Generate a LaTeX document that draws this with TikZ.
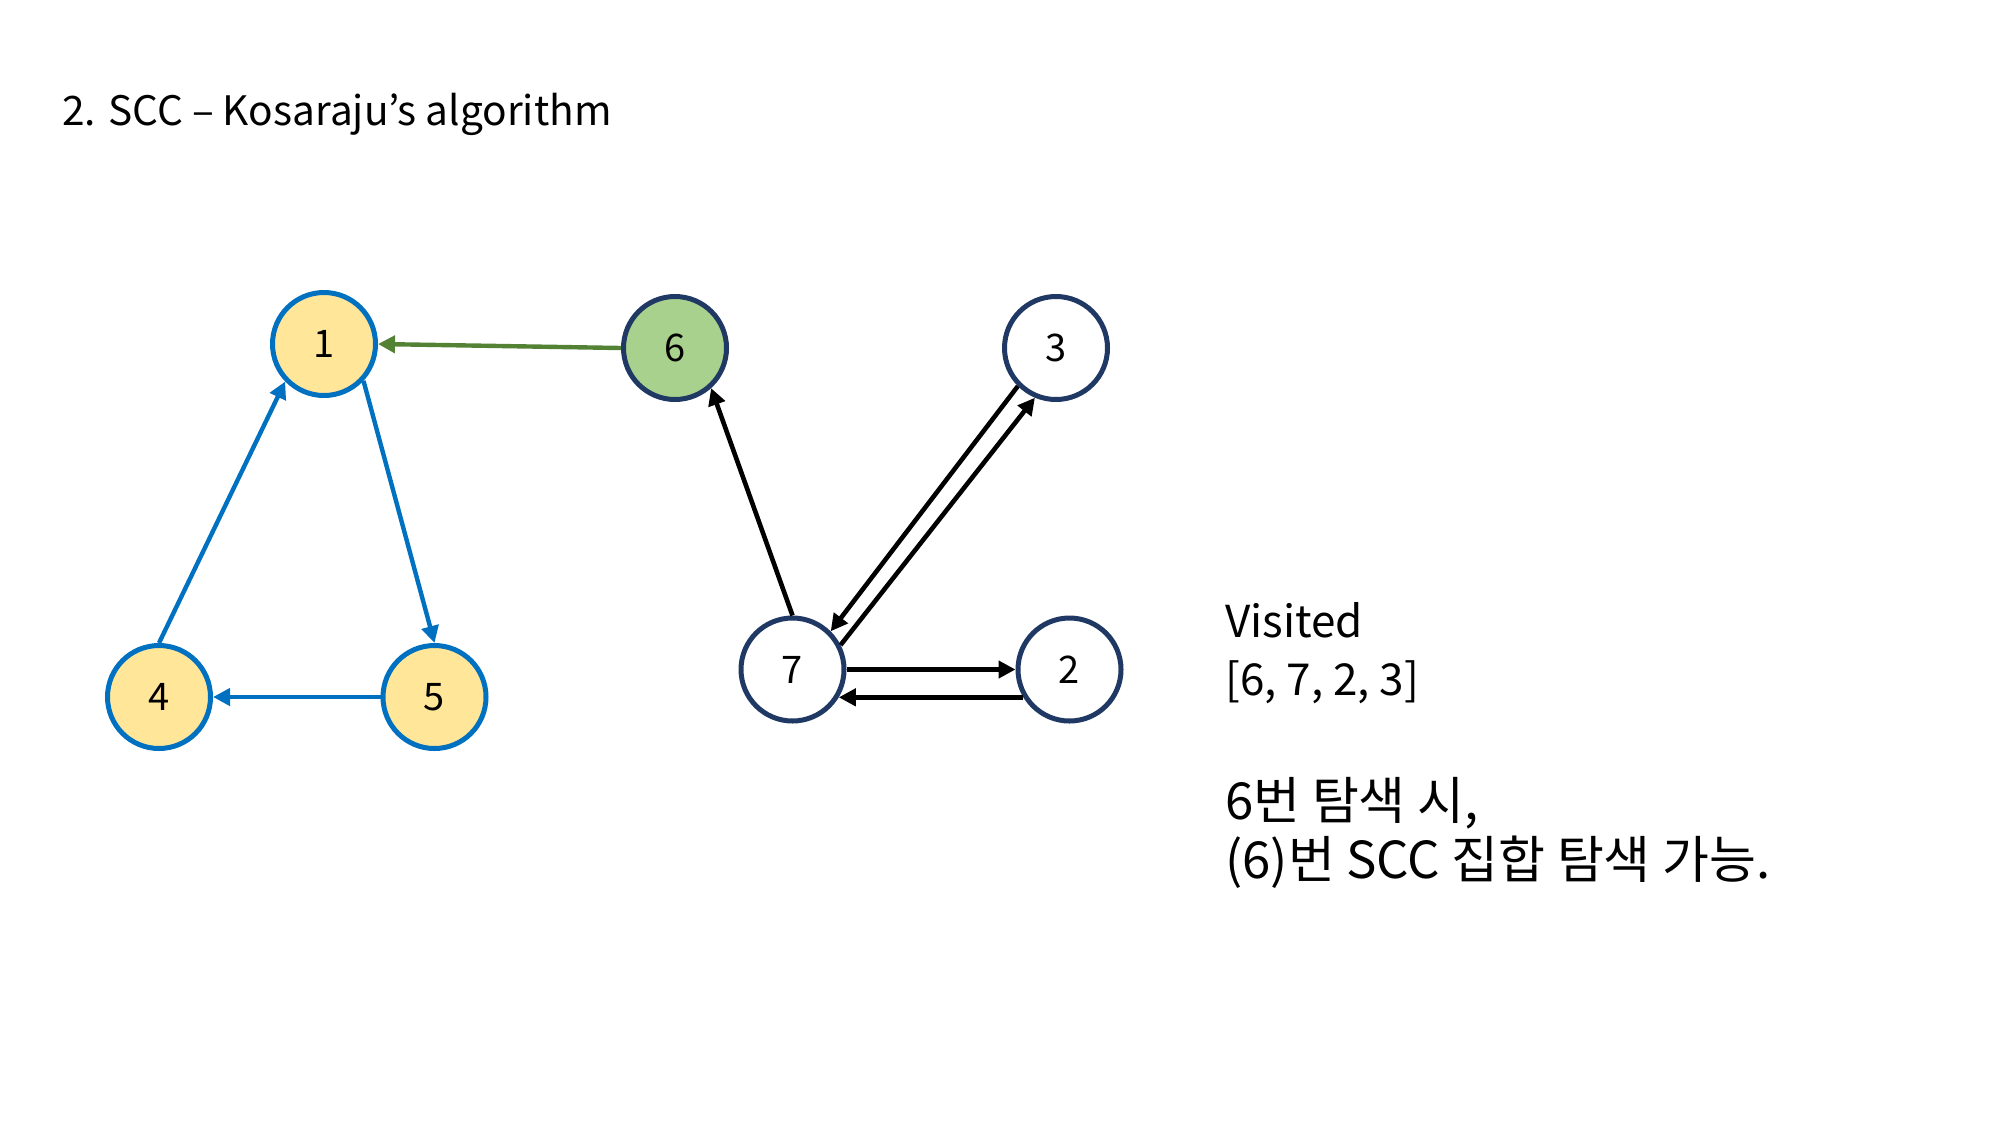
\documentclass[tikz,border=0pt]{standalone}
\usepackage{fontspec}
\setmainfont{Noto Sans CJK KR}
\usetikzlibrary{arrows.meta}
\definecolor{vblue}{HTML}{0070C0}
\definecolor{vyellow}{HTML}{FFE699}
\definecolor{vgreenfill}{HTML}{A9D18E}
\definecolor{vgreenline}{HTML}{548235}
\definecolor{vnavy}{HTML}{1F3864}
\tikzset{
  vert/.style={circle, draw=vnavy, line width=2.5pt, minimum size=51.5pt, inner sep=0pt, fill=white, font=\fontsize{19}{22}\selectfont},
  sccvert/.style={vert, draw=vblue, fill=vyellow},
  curvert/.style={vert, fill=vgreenfill},
  edge/.style={line width=2.3pt, -{Triangle[length=8.5pt,width=8.5pt]}},
  bedge/.style={edge, draw=vblue, line width=2.2pt},
  gedge/.style={edge, draw=vgreenline, line width=2.2pt},
  txt/.style={anchor=base west, inner sep=0pt, font=\fontsize{22}{26}\selectfont},
  krtxt/.style={txt, font=\fontsize{25.5}{30}\selectfont},
}
\begin{document}
\begin{tikzpicture}[x=0.5pt,y=-0.5pt]
\useasboundingbox (0,0) rectangle (2000,1125);
\node[txt, font=\fontsize{20.3}{24}\selectfont] (title) at (62,125) {2. SCC – Kosaraju’s algorithm};

\node[sccvert] (n1) at (324,344) {1};
\node[curvert] (n6) at (675,348) {6};
\node[vert] (n3) at (1056,348) {3};
\node[sccvert] (n4) at (159,697) {4};
\node[sccvert] (n5) at (434.5,697) {5};
\node[vert] (n7) at (792.5,669.5) {7};
\node[vert] (n2) at (1069.5,669.5) {2};

\draw[gedge] (n6.west) -- (n1.east);
\draw[bedge] (n1.-43) -- (n5.north);
\draw[bedge] (n5.west) -- (n4.east);
\draw[bedge] (n4.north) -- (n1.-136);
\draw[edge] (n7.north) -- (n6.-48);
\draw[edge] (n7.27) -- (n3.247);
\draw[edge] (n3.225) -- (n7.45);
\draw[edge] (n7.east) -- (n2.west);
\draw[edge] (n2.211) -- (n7.-31);

\node[txt] (t1) at (1225,637) {Visited};
\node[txt] (t2) at (1225,695) {[6, 7, 2, 3]};
\node[krtxt] (t3) at (1225,819) {6번 탐색 시,};
\node[krtxt] (t4) at (1225,878) {(6)번 SCC 집합 탐색 가능.};
\end{tikzpicture}
\end{document}
